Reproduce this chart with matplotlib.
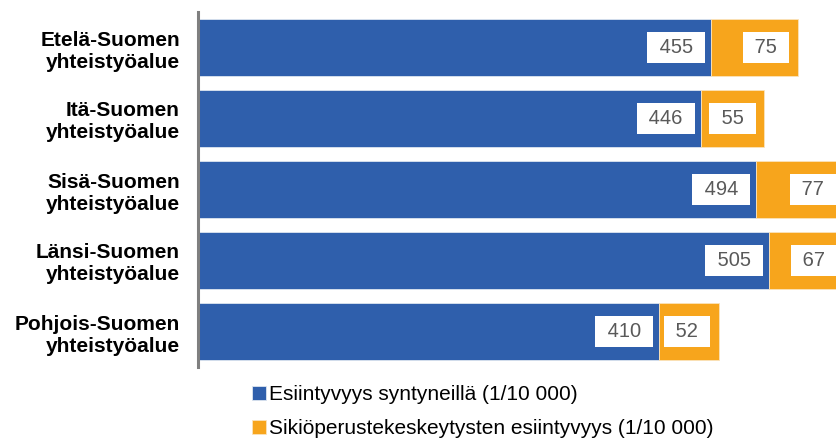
import numpy as np
import matplotlib.pyplot as plt

# data
regions = ["Etelä-Suomen\nyhteistyöalue", "Itä-Suomen\nyhteistyöalue",
           "Sisä-Suomen\nyhteistyöalue", "Länsi-Suomen\nyhteistyöalue",
           "Pohjois-Suomen\nyhteistyöalue"]
births = [455, 446, 494, 505, 410]
terminations = [75, 55, 77, 67, 52]
series_names = ["Esiintyvyys syntyneillä (1/10 000)",
                "Sikiöperustekeskeytysten esiintyvyys (1/10 000)"]

blue = "#2F5FAC"
orange = "#F7A51C"

plt.rcParams['font.family'] = ['Liberation Sans', 'DejaVu Sans']

fig = plt.figure(figsize=(8.36, 4.38), dpi=100)
ax = fig.add_axes([198 / 836, 1 - 367 / 438, 1 - 198 / 836, 355 / 438])

y = np.arange(len(regions))
b1 = ax.barh(y, births, height=0.8, color=blue, edgecolor="#DDE5F0", linewidth=0.6)
b2 = ax.barh(y, terminations, left=births, height=0.8, color=orange,
             edgecolor="#FBE3BC", linewidth=0.6)

# value labels, white boxes at the inside end of each segment
box = dict(boxstyle="square,pad=0.32", facecolor="white", edgecolor="none")
for yi, v, t in zip(y, births, terminations):
    ax.annotate(f" {v} ", xy=(v, yi), xytext=(-9, 0), textcoords="offset points",
                ha="right", va="center", fontsize=14.5, color="#595959", bbox=box,
                annotation_clip=False)
    ax.annotate(f" {t} ", xy=(v + t, yi), xytext=(-11, 0), textcoords="offset points",
                ha="right", va="center", fontsize=14.5, color="#595959", bbox=box,
                annotation_clip=False)

ax.set_xlim(11, 563)
ax.set_ylim(len(regions) - 0.5, -0.5)
ax.set_yticks(y)
ax.set_yticklabels(regions, fontsize=15, fontweight="bold", linespacing=1.2)
ax.tick_params(axis="y", length=0, pad=13)
ax.set_xticks([])
for s in ["top", "right", "bottom"]:
    ax.spines[s].set_visible(False)
ax.spines["left"].set_color("#7F7F7F")
ax.spines["left"].set_linewidth(2.2)
ax.set_zorder(1)

fig.legend([b1, b2], series_names, loc="upper left",
           bbox_to_anchor=(252 / 836, 1 - 385 / 438), frameon=False,
           fontsize=15, handlelength=0.67, handleheight=0.67,
           handletextpad=0.15, labelspacing=0.72, borderaxespad=0, borderpad=0)

fig.savefig("out.png", dpi=100)
